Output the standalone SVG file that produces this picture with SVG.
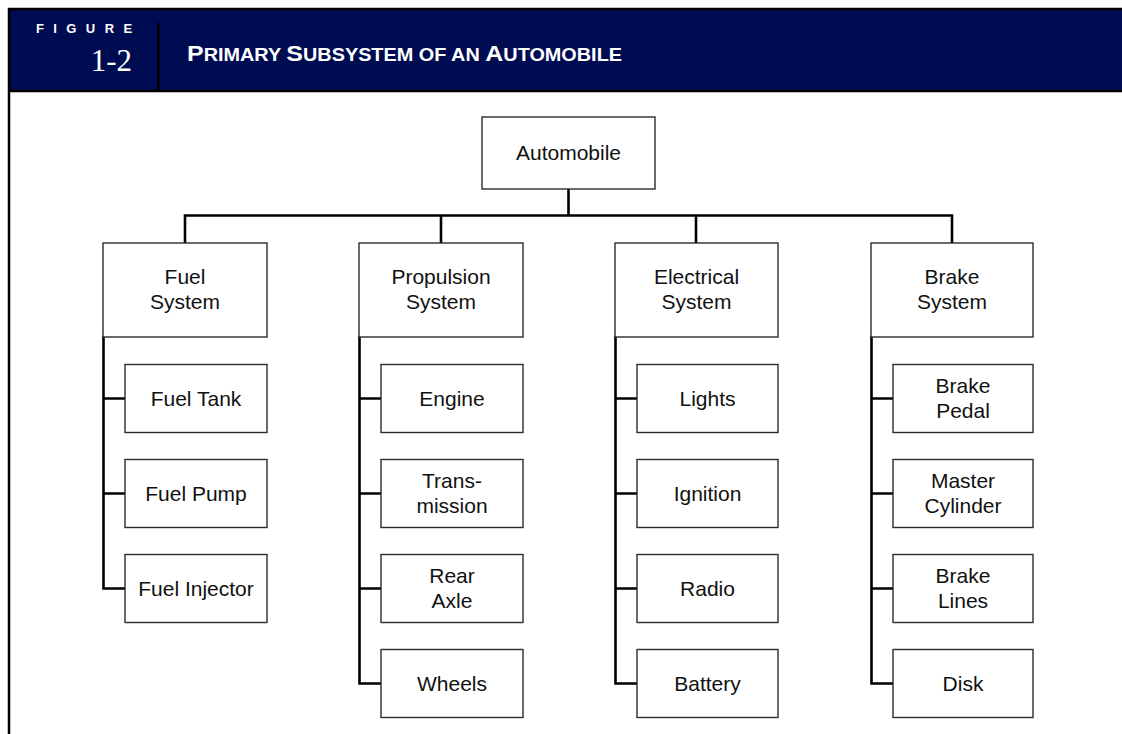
<svg xmlns="http://www.w3.org/2000/svg" width="1122" height="734" viewBox="0 0 1122 734">
<style>
.box{fill:#fff;stroke:#2b2b2b;stroke-width:1.4}
.lbl{font-family:"Liberation Sans",Arial,Helvetica,sans-serif;font-size:21px;fill:#111;text-anchor:middle}
.con{fill:none;stroke:#000;stroke-width:2.6;stroke-linejoin:miter;stroke-linecap:square}
.hdr{font-family:"Liberation Sans",Arial,sans-serif;font-weight:bold;fill:#fff}
</style>
<rect x="0" y="0" width="1122" height="734" fill="#fff"/>
<g id="header">
<rect x="9" y="9" width="1113" height="82" fill="#000c52"/>
<line x1="8" y1="9" x2="1122" y2="9" stroke="#000" stroke-width="2.5"/>
<line x1="9" y1="91" x2="1122" y2="91" stroke="#000" stroke-width="2.5"/>
<line x1="9" y1="8" x2="9" y2="734" stroke="#000" stroke-width="2.5"/>
<line x1="158.3" y1="23" x2="158.3" y2="91" stroke="#000" stroke-width="2.5"/>
<text class="hdr" x="36" y="33" font-size="13" letter-spacing="9.4">FIGURE</text>
<text x="132" y="71" font-family="'Liberation Serif','Times New Roman',serif" font-size="31" fill="#fff" text-anchor="end">1-2</text>
<text class="hdr" x="187" y="61" textLength="435" lengthAdjust="spacingAndGlyphs"><tspan font-size="22">P</tspan><tspan font-size="17.5">RIMARY </tspan><tspan font-size="22">S</tspan><tspan font-size="17.5">UBSYSTEM OF AN </tspan><tspan font-size="22">A</tspan><tspan font-size="17.5">UTOMOBILE</tspan></text>
</g>
<g id="connectors" class="con">
<path d="M568.5 189 V215.5 M185 243 V215.5 H952 V243 M441 215.5 V243 M696 215.5 V243"/>
<path d="M103.5 337 V588.5 H125 M103.5 398.5 H125 M103.5 493.5 H125"/>
<path d="M359.5 337 V683.5 H381 M359.5 398.5 H381 M359.5 493.5 H381 M359.5 588.5 H381"/>
<path d="M615.5 337 V683.5 H637 M615.5 398.5 H637 M615.5 493.5 H637 M615.5 588.5 H637"/>
<path d="M871.5 337 V683.5 H893 M871.5 398.5 H893 M871.5 493.5 H893 M871.5 588.5 H893"/>
</g>
<g id="automobile"><rect class="box" x="482" y="117" width="173" height="72"/><text class="lbl" x="568.5" y="160">Automobile</text></g>
<g id="fuel-system"><rect class="box" x="103" y="243" width="164" height="94"/><text class="lbl" x="185" y="284">Fuel</text><text class="lbl" x="185" y="309">System</text></g>
<g id="fuel-tank"><rect class="box" x="125" y="364.5" width="142" height="68"/><text class="lbl" x="196" y="405.5">Fuel Tank</text></g>
<g id="fuel-pump"><rect class="box" x="125" y="459.5" width="142" height="68"/><text class="lbl" x="196" y="500.5">Fuel Pump</text></g>
<g id="fuel-injector"><rect class="box" x="125" y="554.5" width="142" height="68"/><text class="lbl" x="196" y="595.5">Fuel Injector</text></g>
<g id="propulsion-system"><rect class="box" x="359" y="243" width="164" height="94"/><text class="lbl" x="441" y="284">Propulsion</text><text class="lbl" x="441" y="309">System</text></g>
<g id="engine"><rect class="box" x="381" y="364.5" width="142" height="68"/><text class="lbl" x="452" y="405.5">Engine</text></g>
<g id="transmission"><rect class="box" x="381" y="459.5" width="142" height="68"/><text class="lbl" x="452" y="487.5">Trans-</text><text class="lbl" x="452" y="512.5">mission</text></g>
<g id="rear-axle"><rect class="box" x="381" y="554.5" width="142" height="68"/><text class="lbl" x="452" y="582.5">Rear</text><text class="lbl" x="452" y="607.5">Axle</text></g>
<g id="wheels"><rect class="box" x="381" y="649.5" width="142" height="68"/><text class="lbl" x="452" y="690.5">Wheels</text></g>
<g id="electrical-system"><rect class="box" x="615" y="243" width="163" height="94"/><text class="lbl" x="696.5" y="284">Electrical</text><text class="lbl" x="696.5" y="309">System</text></g>
<g id="lights"><rect class="box" x="637" y="364.5" width="141" height="68"/><text class="lbl" x="707.5" y="405.5">Lights</text></g>
<g id="ignition"><rect class="box" x="637" y="459.5" width="141" height="68"/><text class="lbl" x="707.5" y="500.5">Ignition</text></g>
<g id="radio"><rect class="box" x="637" y="554.5" width="141" height="68"/><text class="lbl" x="707.5" y="595.5">Radio</text></g>
<g id="battery"><rect class="box" x="637" y="649.5" width="141" height="68"/><text class="lbl" x="707.5" y="690.5">Battery</text></g>
<g id="brake-system"><rect class="box" x="871" y="243" width="162" height="94"/><text class="lbl" x="952" y="284">Brake</text><text class="lbl" x="952" y="309">System</text></g>
<g id="brake-pedal"><rect class="box" x="893" y="364.5" width="140" height="68"/><text class="lbl" x="963" y="392.5">Brake</text><text class="lbl" x="963" y="417.5">Pedal</text></g>
<g id="master-cylinder"><rect class="box" x="893" y="459.5" width="140" height="68"/><text class="lbl" x="963" y="487.5">Master</text><text class="lbl" x="963" y="512.5">Cylinder</text></g>
<g id="brake-lines"><rect class="box" x="893" y="554.5" width="140" height="68"/><text class="lbl" x="963" y="582.5">Brake</text><text class="lbl" x="963" y="607.5">Lines</text></g>
<g id="disk"><rect class="box" x="893" y="649.5" width="140" height="68"/><text class="lbl" x="963" y="690.5">Disk</text></g>
</svg>
